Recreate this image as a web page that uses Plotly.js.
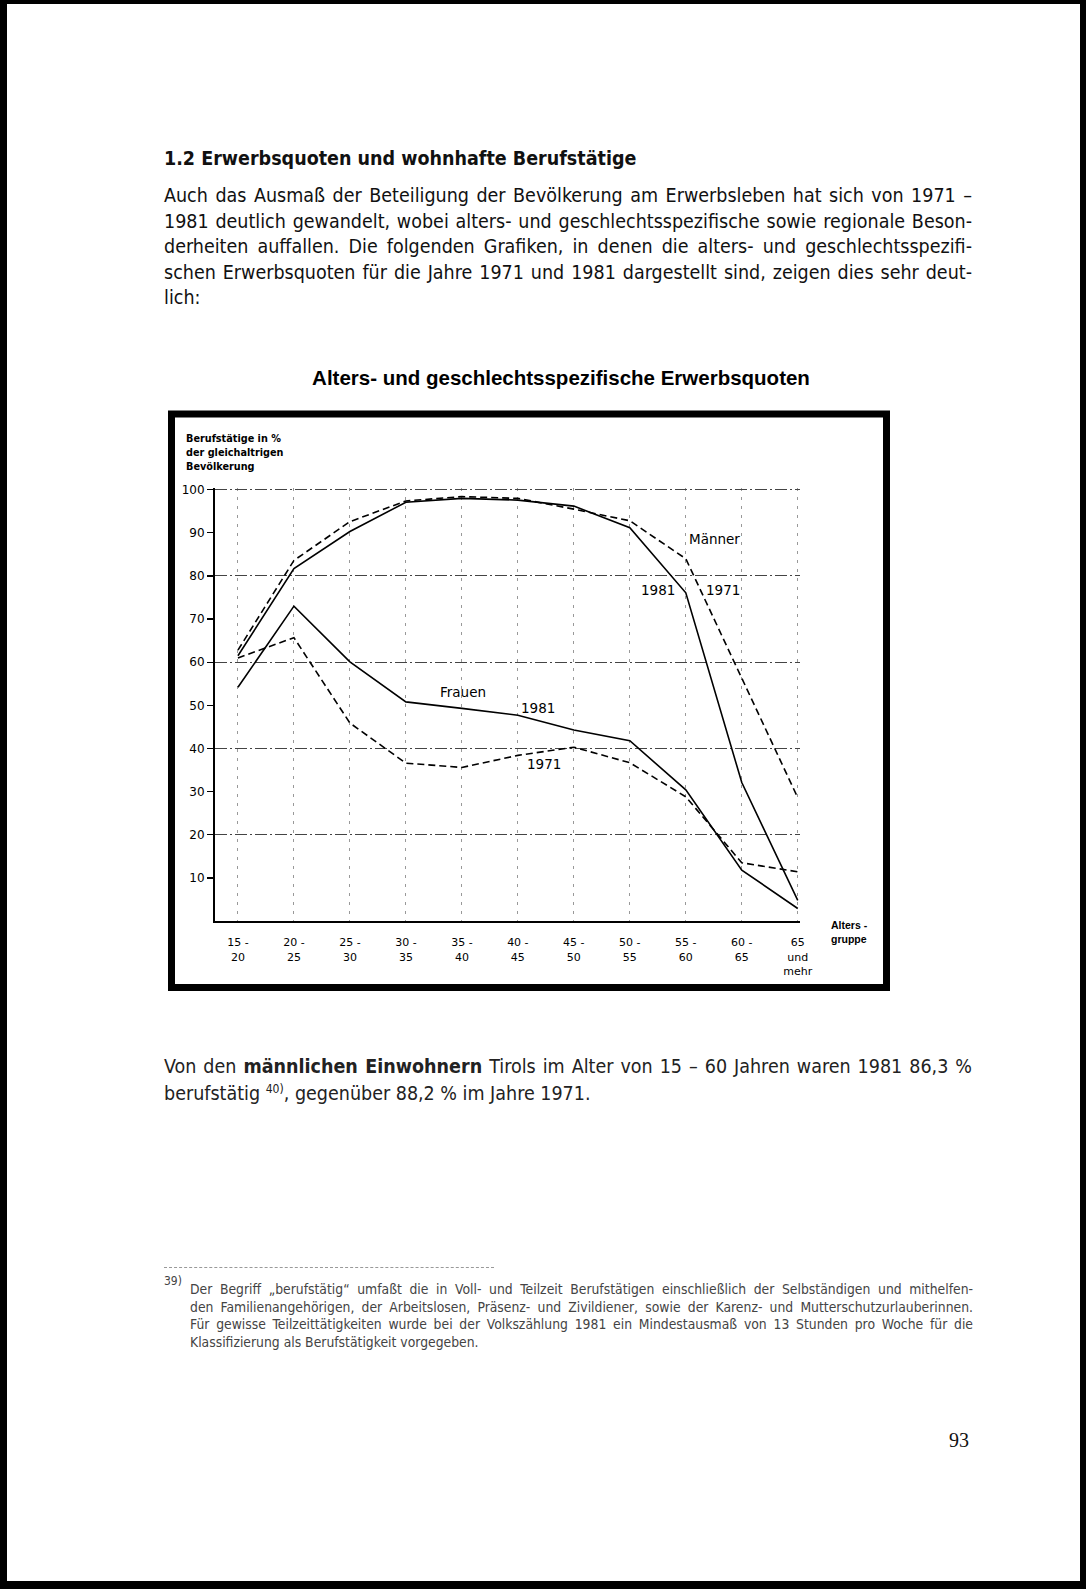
<!DOCTYPE html>
<html>
<head>
<meta charset="utf-8">
<script src="https://cdn.plot.ly/plotly-3.0.1.min.js"></script>
<style>
  html, body { margin:0; padding:0; background:#fff; }
  #page { position:relative; width:1086px; height:1589px; overflow:hidden; background:#fff; }
  #frame { position:absolute; left:0; top:0; width:1086px; height:1589px; box-sizing:border-box;
           border-left:7px solid #000; border-top:4px solid #000; border-right:6px solid #000; border-bottom:8px solid #000;
           pointer-events:none; z-index:10; }
  #chart { position:absolute; left:0; top:0; width:1086px; height:1589px; }
  .prose { position:absolute; font-family:'Liberation Sans Narrow','DejaVu Sans Condensed','Roboto Condensed','Noto Sans',sans-serif;
           font-stretch:condensed; color:#111; z-index:5; }
  .just { display:block; text-align:justify; text-align-last:justify; }
  .left { display:block; text-align:left; white-space:nowrap; }
  sup { font-size:62%; line-height:0; vertical-align:0.6em; }
</style>
</head>
<body>
<div id="page">
  <div id="chart"></div>

  <div class="prose" style="left:164px; top:147px; font-size:19.5px; font-weight:bold; line-height:24px;">1.2 Erwerbsquoten und wohnhafte Berufstätige</div>

  <div class="prose" style="left:164px; top:183px; width:808px; font-size:19.5px; line-height:25.6px;">
    <span class="just">Auch das Ausmaß der Beteiligung der Bevölkerung am Erwerbsleben hat sich von 1971 –</span>
    <span class="just">1981 deutlich gewandelt, wobei alters- und geschlechtsspezifische sowie regionale Beson-</span>
    <span class="just">derheiten auffallen. Die folgenden Grafiken, in denen die alters- und geschlechtsspezifi-</span>
    <span class="just">schen Erwerbsquoten für die Jahre 1971 und 1981 dargestellt sind, zeigen dies sehr deut-</span>
    <span class="left">lich:</span>
  </div>

  <div class="prose" style="left:164px; top:1053px; width:808px; font-size:19.5px; line-height:27.3px; color:#222;">
    <span class="just">Von den <b>männlichen Einwohnern</b> Tirols im Alter von 15 – 60 Jahren waren 1981 86,3 %</span>
    <span class="left">berufstätig <sup>40)</sup>, gegenüber 88,2 % im Jahre 1971.</span>
  </div>

  <div style="position:absolute; left:164px; top:1267px; width:330px; border-top:1px dashed #999; z-index:5;"></div>

  <div class="prose" style="left:164px; top:1274px; font-size:12px; color:#444;">39)</div>
  <div class="prose" style="left:190px; top:1281px; width:783px; font-size:13.8px; line-height:17.6px; color:#444;">
    <span class="just">Der Begriff „berufstätig“ umfaßt die in Voll- und Teilzeit Berufstätigen einschließlich der Selbständigen und mithelfen-</span>
    <span class="just">den Familienangehörigen, der Arbeitslosen, Präsenz- und Zivildiener, sowie der Karenz- und Mutterschutzurlauberinnen.</span>
    <span class="just">Für gewisse Teilzeittätigkeiten wurde bei der Volkszählung 1981 ein Mindestausmaß von 13 Stunden pro Woche für die</span>
    <span class="left">Klassifizierung als Berufstätigkeit vorgegeben.</span>
  </div>

  <div style="position:absolute; left:949px; top:1429px; font-family:'Liberation Serif',serif; font-size:20px; color:#111; z-index:5;">93</div>

  <div id="frame"></div>
</div>

<script>
// ---- data ----
const categories = ["15 -<br>20","20 -<br>25","25 -<br>30","30 -<br>35","35 -<br>40","40 -<br>45",
                    "45 -<br>50","50 -<br>55","55 -<br>60","60 -<br>65","65<br>und<br>mehr"];
const maenner1981 = [61.5, 81.7, 90.3, 97.1, 98.0, 97.6, 96.2, 91.2, 76.1, 32.1, 4.8];
const maenner1971 = [62.8, 83.6, 92.6, 97.4, 98.4, 98.0, 95.5, 92.8, 84.0, 56.4, 28.6];
const frauen1981  = [54.2, 73.0, 60.1, 50.8, 49.3, 47.7, 44.3, 41.8, 30.4, 11.8, 2.9];
const frauen1971  = [61.0, 65.7, 45.9, 36.6, 35.6, 38.4, 40.3, 36.7, 28.8, 13.5, 11.4];
const yTickVals = [10, 20, 30, 40, 50, 60, 70, 80, 90, 100];
const yGridVals = [20, 40, 60, 80, 100];
const yTitleLines = ['Berufstätige in %', 'der gleichaltrigen', 'Bevölkerung'];

const idx = categories.map((_, i) => i);

// plot-area geometry in page pixels
const L = 215, R = 800, T = 488, B = 921, W = 1086, H = 1589;
const px = x => (x - L) / (R - L);
const py = y => (B - y) / (B - T);

const chartFont = 'DejaVu Sans, sans-serif';

const solid = {color:'#000', width:1.6};
const dashed = {color:'#000', width:1.6, dash:'7px,4px'};

const traces = [
  {x: idx, y: maenner1981, mode:'lines', line: solid, name:'Männer 1981', hoverinfo:'skip'},
  {x: idx, y: maenner1971, mode:'lines', line: dashed, name:'Männer 1971', hoverinfo:'skip'},
  {x: idx, y: frauen1981, mode:'lines', line: solid, name:'Frauen 1981', hoverinfo:'skip'},
  {x: idx, y: frauen1971, mode:'lines', line: dashed, name:'Frauen 1971', hoverinfo:'skip', yaxis:'y2'}
];

const lab = (text, x, y, size) => ({text, x, y, xref:'x', yref:'y', showarrow:false,
  font:{family:chartFont, size:size || 12, color:'#000'}});

const yTitleAnn = yTitleLines.map((t, i) => ({
  text: t, xref:'paper', yref:'paper', x: px(184), y: py(438 + i * 14.5),
  xanchor:'left', yanchor:'middle', align:'left', showarrow:false,
  font:{family:'DejaVu Sans, sans-serif', size:9.7, weight:'bold', color:'#000'}
}));

const layout = {
  width: W, height: H,
  margin: {l: L, r: W - R, t: T, b: H - B, pad: 0},
  paper_bgcolor: 'rgba(0,0,0,0)',
  plot_bgcolor: '#fff',
  showlegend: false,
  title: {
    text: 'Alters- und geschlechtsspezifische Erwerbsquoten',
    x: 561 / W, xref: 'container', xanchor: 'center',
    y: 1 - 378 / H, yref: 'container', yanchor: 'middle',
    font: {family: 'Liberation Sans, Arial, sans-serif', size: 20.5, weight: 'bold', color: '#000'}
  },
  xaxis: {
    range: [-0.41, 10.04],
    tickmode: 'array', tickvals: idx, ticktext: categories,
    showline: true, linecolor: '#000', linewidth: 2,
    showgrid: true, gridcolor: '#999', gridwidth: 1, griddash: '3px,6px',
    zeroline: false, ticks: '', ticklabelstandoff: 10,
    tickfont: {family: chartFont, size: 11, color: '#000'},
    fixedrange: true
  },
  yaxis: {
    range: [0, 100.4],
    tickmode: 'array', tickvals: yTickVals,
    showline: true, linecolor: '#000', linewidth: 2,
    showgrid: false, zeroline: false,
    ticks: 'outside', ticklen: 6, tickwidth: 1.3, tickcolor: '#000',
    tickfont: {family: chartFont, size: 12, color: '#000'},
    fixedrange: true
  },
  yaxis2: {
    overlaying: 'y', side: 'left',
    range: [0, 100.4],
    tickmode: 'array', tickvals: yGridVals,
    showticklabels: false, ticks: '', showline: false, zeroline: false,
    showgrid: true, gridcolor: '#444', gridwidth: 1, griddash: '12px,3px,2px,3px',
    fixedrange: true
  },
  annotations: [
    lab('Männer', 8.52, 88.6, 13.5),
    lab('1981', 7.5, 76.8, 13.5),
    lab('1971', 8.66, 76.8, 13.5),
    lab('Frauen', 4.02, 53.0, 13.5),
    lab('1981', 5.36, 49.3, 13.5),
    lab('1971', 5.47, 36.3, 13.5),
    ...yTitleAnn,
    {text: 'Alters -<br>gruppe', xref:'paper', yref:'paper',
     x: px(829), y: py(932), xanchor:'left', yanchor:'middle', align:'left', showarrow:false,
     font:{family:'Liberation Sans, Arial, sans-serif', size:10.5, weight:'bold', color:'#000'}}
  ],
  shapes: [
    {type:'rect', xref:'paper', yref:'paper', x0: px(171.5), x1: px(886.5), y0: py(414), y1: py(987.5),
     line:{color:'#000', width:7}, fillcolor:'rgba(0,0,0,0)', layer:'above'}
  ]
};

Plotly.newPlot('chart', traces, layout, {displayModeBar: false, staticPlot: true});
</script>
</body>
</html>
